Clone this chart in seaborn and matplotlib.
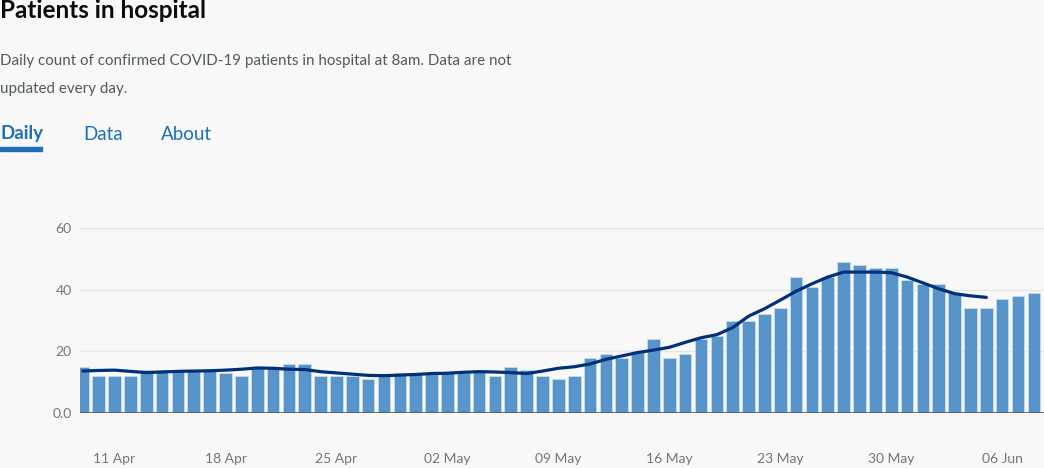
import numpy as np
import pandas as pd
import matplotlib
matplotlib.use("Agg")
import matplotlib.pyplot as plt
import seaborn as sns

# daily patients in hospital, 09 Apr .. 08 Jun
patients = [15, 12, 12, 12, 14, 14, 14, 14, 14, 13, 12, 15, 15, 16, 16, 12, 12, 12, 11, 12, 13, 13,
            13, 13, 13, 14, 12, 15, 14, 12, 11, 12, 18, 19, 18, 20, 24, 18, 19, 24, 25, 30, 30, 32,
            34, 44, 41, 44, 49, 48, 47, 47, 43,
            42, 42, 39, 34, 34, 37, 38, 39]
# 7-day average line, 09 Apr .. 05 Jun
average = [13.6, 13.8, 13.9, 13.5, 13.1, 13.3, 13.5, 13.6, 13.7, 13.9, 14.2, 14.6, 14.5, 14.2, 14.1,
           13.4, 13.0, 12.6, 12.2, 12.1, 12.3, 12.5,
           12.8, 12.9, 13.2, 13.4, 13.3, 13.1, 12.8, 13.6, 14.5, 15.0, 15.9, 17.4, 18.5, 19.6, 20.4,
           21.3, 22.9, 24.4, 25.4, 27.7, 31.4, 33.8, 36.6, 39.5, 41.9, 44.1, 45.7, 45.7, 45.7, 45.5, 44.1,
           42.2, 40.3, 38.7, 38.0, 37.5]
tick_days = [2, 9, 16, 23, 30, 37, 44, 51, 58]
tick_labels = ['11 Apr', '18 Apr', '25 Apr', '02 May', '09 May', '16 May', '23 May', '30 May', '06 Jun']
y_ticks = [0, 20, 40, 60]
y_labels = ['0.0', '20', '40', '60']

bars = pd.DataFrame({'day': np.arange(len(patients)), 'patients': patients})
line = pd.DataFrame({'day': np.arange(len(average)), 'average': average})

BG = '#f8f8f8'
sns.set_style('white')
plt.rcParams['font.family'] = ['Lato', 'DejaVu Sans']

W, H = 1044, 468
fig = plt.figure(figsize=(W / 100, H / 100), dpi=100, facecolor=BG)
ax = fig.add_axes([80 / W, (H - 413) / H, (W - 80) / W, 185 / H])
ax.set_facecolor(BG)

sns.barplot(data=bars, x='day', y='patients', native_scale=True, color='#5694ca',
            width=0.8, saturation=1, edgecolor='#cfe0f0', linewidth=0.5, ax=ax, zorder=2)
sns.lineplot(data=line, x='day', y='average', color='#003078', linewidth=2.3, ax=ax, zorder=3)

ax.set_xlim(-0.18, 60.64)
ax.set_ylim(0, 60)
ax.set_yticks(y_ticks, y_labels)
ax.set_xticks(tick_days, tick_labels)
for v in y_ticks[1:]:
    ax.axhline(v, color='#e6e6e6', linewidth=1, zorder=1, clip_on=False)
ax.axhline(0, color='#505a5f', linewidth=1.2, zorder=4)

for s in ['top', 'right', 'left']:
    ax.spines[s].set_visible(False)
ax.spines['bottom'].set_position(('outward', 21))
ax.spines['bottom'].set_visible(False)
ax.tick_params(axis='y', length=0, pad=6, labelsize=10, labelcolor='#6f777b')
ax.tick_params(axis='x', length=3.5, width=1, color='#505a5f', pad=4, labelsize=10, labelcolor='#6f777b')
ax.set_xlabel('')
ax.set_ylabel('')
ax.grid(False)

def px_text(x, y, s, **kw):
    fig.text(x / W, 1 - y / H, s, va='baseline', ha='left', **kw)

px_text(0, 18.5, 'Patients in hospital', fontsize=17.5, fontweight='bold', color='#0b0c0c')
px_text(0, 65, 'Daily count of confirmed COVID-19 patients in hospital at 8am. Data are not',
        fontsize=10.9, color='#505a5f')
px_text(0, 92.5, 'updated every day.', fontsize=10.9, color='#505a5f')
px_text(0, 139.5, 'Daily', fontsize=13.5, fontweight='bold', color='#1d70b8')
px_text(83, 139.5, 'Data', fontsize=13.5, color='#1d70b8')
px_text(161, 139.5, 'About', fontsize=13.5, color='#1d70b8')
fig.patches.append(plt.Rectangle((0, 1 - 151 / H), 42 / W, 4 / H, transform=fig.transFigure,
                                 color='#1d70b8', zorder=5))

fig.savefig('out.png', dpi=100, facecolor=BG)
